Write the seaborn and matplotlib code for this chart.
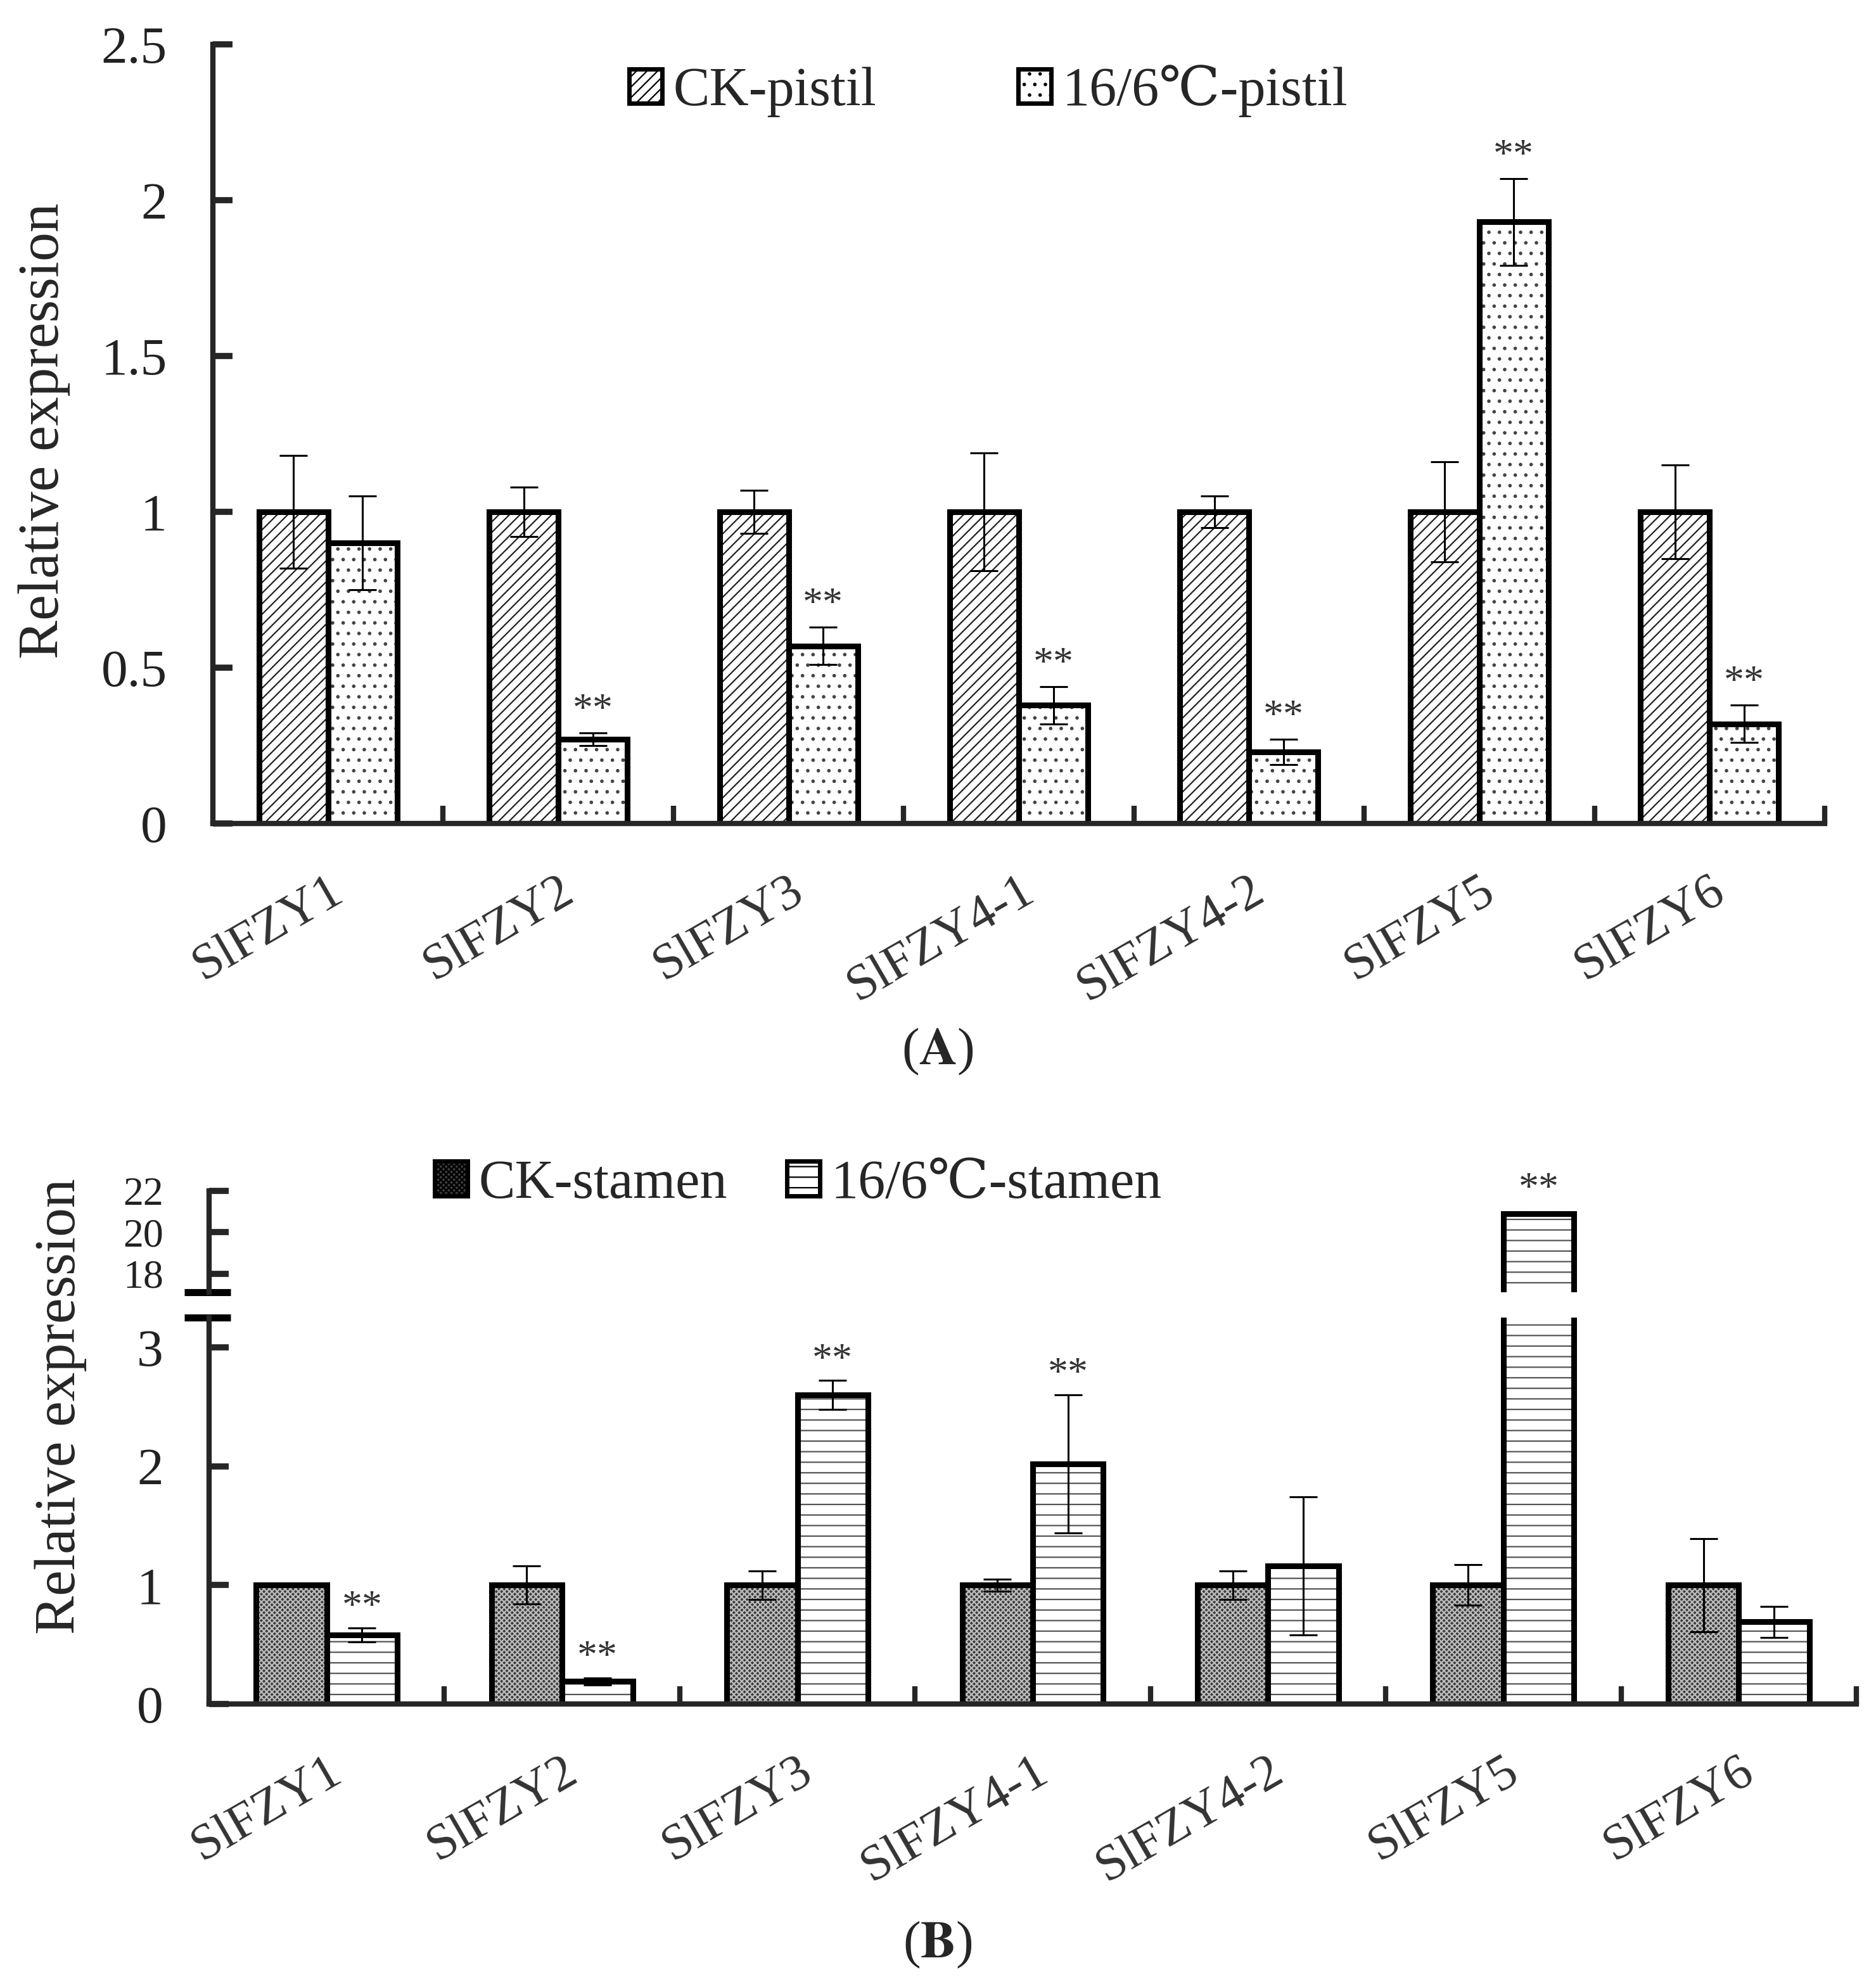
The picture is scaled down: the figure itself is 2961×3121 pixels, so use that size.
import numpy as np
import pandas as pd
import seaborn as sns
import matplotlib.pyplot as plt
from matplotlib.patches import Patch

genes = ['SlFZY1', 'SlFZY2', 'SlFZY3', 'SlFZY4-1', 'SlFZY4-2', 'SlFZY5', 'SlFZY6']

# panel A, pistil
pistil_ck = [1.0, 1.0, 1.0, 1.0, 1.0, 1.0, 1.0]
pistil_ck_err = [0.18, 0.08, 0.07, 0.19, 0.05, 0.16, 0.15]
pistil_cold = [0.90, 0.27, 0.57, 0.38, 0.23, 1.93, 0.32]
pistil_cold_err = [0.15, 0.02, 0.06, 0.06, 0.04, 0.14, 0.06]
pistil_sig = [False, True, True, True, True, True, True]

# panel B, stamen
stamen_ck = [1.0, 1.0, 1.0, 1.0, 1.0, 1.0, 1.0]
stamen_ck_err = [0.01, 0.16, 0.12, 0.05, 0.12, 0.17, 0.39]
stamen_cold = [0.58, 0.19, 2.60, 2.02, 1.16, 20.9, 0.69]
stamen_cold_err = [0.06, 0.03, 0.12, 0.58, 0.58, 0.08, 0.13]
stamen_sig = [True, True, True, True, False, True, False]

W, H = 2961, 3121
sns.set_style('white')
plt.rcParams['font.family'] = ['Liberation Serif', 'DejaVu Serif', 'DejaVu Sans']
plt.rcParams['mathtext.fontset'] = 'stix'
plt.rcParams['hatch.linewidth'] = 1.6

fig = plt.figure(figsize=(W / 100, H / 100), dpi=100)


def fx(px):
    return px / W


def fy(px):
    return 1 - px / H


def panel(ax, ck, ck_err, cold, cold_err, names, styles):
    df = pd.DataFrame({
        'gene': genes * 2,
        'group': [names[0]] * 7 + [names[1]] * 7,
        'value': list(ck) + list(cold),
    })
    # fill + hatch layer
    sns.barplot(data=df, x='gene', y='value', hue='group', hue_order=names,
                palette={names[0]: styles[0]['face'], names[1]: styles[1]['face']},
                width=0.6, gap=0, saturation=1, errorbar=None, legend=False,
                linewidth=0, ax=ax)
    for cont, st in zip(ax.containers, styles):
        for p in cont:
            p.set_hatch(st['hatch'])
            p.set_edgecolor(st['hatchcolor'])
            p.set_linewidth(0)
    # outline layer
    sns.barplot(data=df, x='gene', y='value', hue='group', hue_order=names,
                palette={names[0]: 'black', names[1]: 'black'}, fill=False,
                width=0.6, gap=0, errorbar=None, legend=False,
                linewidth=6.5, ax=ax)
    for cont, vals, errs in zip(ax.containers[:2], [ck, cold], [ck_err, cold_err]):
        xs = [p.get_x() + p.get_width() / 2 for p in cont]
        ax.errorbar(xs, vals, yerr=errs, fmt='none', ecolor='black',
                    elinewidth=2.2, capsize=16, capthick=2.2, zorder=5)
    return [p.get_x() + p.get_width() / 2 for p in ax.containers[1]]


def style_axis(ax, fs):
    sns.despine(ax=ax)
    for s in ['left', 'bottom']:
        ax.spines[s].set_linewidth(6)
    ax.set_xlim(-0.5, 6.5)
    ax.set_xlabel('')
    ax.set_ylabel('')
    ax.set_xticks(range(7))
    ax.set_xticks(np.arange(0.5, 7, 1), minor=True)
    ax.tick_params(axis='x', which='major', bottom=True, length=0, pad=50)
    ax.tick_params(axis='x', which='minor', bottom=True, direction='in',
                   length=20, width=6)
    ax.set_xticklabels(genes, rotation=30, ha='right', rotation_mode='anchor',
                       fontsize=fs, color='#333333')
    ax.tick_params(axis='y', left=True, direction='in', length=22, width=7,
                   pad=52, labelsize=60, labelcolor='#222222')


# ---------------- panel A
axA = fig.add_axes([fx(336), fy(1300), fx(2880) - fx(336), fy(70) - fy(1300)])
stylesA = [dict(face='white', hatch='//', hatchcolor='#222222'),
           dict(face='white', hatch='.', hatchcolor='#444444')]
namesA = ['CK-pistil', '16/6\u2103-pistil']
xsA = panel(axA, pistil_ck, pistil_ck_err, pistil_cold, pistil_cold_err,
            namesA, stylesA)
axA.set_ylim(0, 2.5)
axA.set_yticks([0, 0.5, 1, 1.5, 2, 2.5])
axA.set_yticklabels(['0', '0.5', '1', '1.5', '2', '2.5'])
style_axis(axA, 58)
for x, v, e, s in zip(xsA, pistil_cold, pistil_cold_err, pistil_sig):
    if s:
        axA.text(x, v + e + 0.01, '**', ha='center', va='bottom',
                 fontsize=46, color='#333333')

hA = [Patch(facecolor=st['face'], hatch=st['hatch'], edgecolor='black', linewidth=5)
      for st in stylesA]
fig.legend(hA, namesA, loc='center', bbox_to_anchor=(fx(1560), fy(144)), ncol=2,
           frameon=False, fontsize=62, handlelength=0.6, handleheight=0.6,
           handletextpad=0.2, columnspacing=2.6)
fig.text(fx(70), fy(680), 'Relative expression', rotation=90, ha='center',
         va='center', fontsize=66)
fig.text(fx(1480), fy(1660), r'($\mathbf{A}$)', ha='center', va='center', fontsize=60)

# ---------------- panel B
stylesB = [dict(face='#3a3a3a', hatch='xxxx', hatchcolor='#bdbdbd'),
           dict(face='white', hatch='-', hatchcolor='#555555')]
namesB = ['CK-stamen', '16/6\u2103-stamen']
axB = fig.add_axes([fx(330), fy(2690), fx(2930) - fx(330), fy(2080) - fy(2690)])
axBt = fig.add_axes([fx(330), fy(2040), fx(2930) - fx(330), fy(1880) - fy(2040)])

xsB = panel(axB, stamen_ck, stamen_ck_err, stamen_cold, stamen_cold_err,
            namesB, stylesB)
axB.set_ylim(0, 3.25)
axB.set_yticks([0, 1, 2, 3])
style_axis(axB, 58)
for x, v, e, s in zip(xsB, stamen_cold, stamen_cold_err, stamen_sig):
    if s and v + e < 3.25:
        axB.text(x, v + e + 0.01, '**', ha='center', va='bottom',
                 fontsize=46, color='#333333')

panel(axBt, stamen_ck, stamen_ck_err, stamen_cold, stamen_cold_err,
      namesB, stylesB)
axBt.set_ylim(17.1, 22)
axBt.set_xlim(-0.5, 6.5)
axBt.set_yticks([18, 20, 22])
axBt.set_xticks([])
axBt.set_xlabel('')
axBt.set_ylabel('')
sns.despine(ax=axBt, bottom=True)
axBt.spines['left'].set_linewidth(6)
axBt.tick_params(axis='y', left=True, direction='in', length=22, width=7, pad=52,
                 labelsize=46, labelcolor='#222222')
for x, v, e, s in zip(xsB, stamen_cold, stamen_cold_err, stamen_sig):
    if s and v > 17.1:
        axBt.text(x, v + e + 0.15, '**', ha='center', va='bottom',
                  fontsize=46, color='#333333')

# break marks
axB.plot([-0.015, 0.013], [1, 1], transform=axB.transAxes, color='black',
         lw=8, clip_on=False, solid_capstyle='butt')
axBt.plot([-0.015, 0.013], [0, 0], transform=axBt.transAxes, color='black',
          lw=8, clip_on=False, solid_capstyle='butt')

hB = [Patch(facecolor=st['face'], hatch=st['hatch'], edgecolor='black', linewidth=5)
      for st in stylesB]
fig.legend(hB, namesB, loc='center', bbox_to_anchor=(fx(1260), fy(1870)), ncol=2,
           frameon=False, fontsize=62, handlelength=0.6, handleheight=0.6,
           handletextpad=0.2, columnspacing=1.1)
fig.text(fx(96), fy(2220), 'Relative expression', rotation=90, ha='center',
         va='center', fontsize=66)
fig.text(fx(1480), fy(3070), r'($\mathbf{B}$)', ha='center', va='center', fontsize=60)

fig.savefig('out.png', dpi=100)
